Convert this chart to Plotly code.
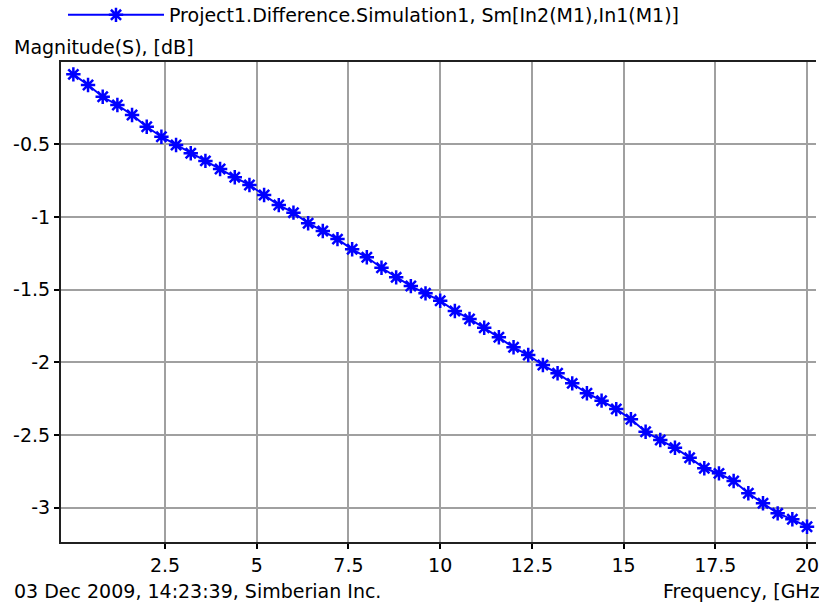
import plotly.graph_objects as go

freq_ghz = [round(i * 0.4, 1) for i in range(51)]
magnitude_db = [
    -0.019, -0.092, -0.173, -0.230, -0.298, -0.379, -0.448, -0.505, -0.562, -0.614,
    -0.670, -0.727, -0.780, -0.849, -0.918, -0.970, -1.043, -1.096, -1.152, -1.222,
    -1.277, -1.349, -1.415, -1.475, -1.525, -1.576, -1.646, -1.701, -1.762, -1.827,
    -1.896, -1.949, -2.018, -2.075, -2.144, -2.212, -2.263, -2.321, -2.391, -2.477,
    -2.534, -2.587, -2.655, -2.728, -2.763, -2.816, -2.900, -2.969, -3.038, -3.079,
    -3.130,
]
series_name = "Project1.Difference.Simulation1, Sm[In2(M1),In1(M1)]"
x_ticks = [2.5, 5, 7.5, 10, 12.5, 15, 17.5, 20]
x_tick_labels = ["2.5", "5", "7.5", "10", "12.5", "15", "17.5", "20"]
y_ticks = [-0.5, -1, -1.5, -2, -2.5, -3]
y_tick_labels = ["-0.5", "-1", "-1.5", "-2", "-2.5", "-3"]

FONT = "DejaVu Sans, Verdana, sans-serif"
FS = 19
W, H = 819, 604
L, T, B = 61, 62, 62
PW, PH = W - L, H - T - B

fig = go.Figure()
fig.add_trace(go.Scatter(
    x=freq_ghz, y=magnitude_db, mode="lines+markers", name=series_name,
    line=dict(color="#0000FF", width=2),
    marker=dict(symbol="asterisk", size=12, color="#0000FF",
                line=dict(color="#0000FF", width=2.5)),
))

fig.update_layout(
    width=W, height=H,
    margin=dict(l=L, r=0, t=T, b=B),
    paper_bgcolor="white", plot_bgcolor="white",
    font=dict(family=FONT, size=FS, color="black"),
    showlegend=True,
    legend=dict(x=(63 - L) / PW, y=1 - 15 / H, xref="paper", yref="container",
                xanchor="left", yanchor="middle",
                bgcolor="rgba(0,0,0,0)", itemwidth=96,
                font=dict(family=FONT, size=FS, color="black")),
    xaxis=dict(range=[-0.337, 20.245], tickvals=x_ticks, ticktext=x_tick_labels,
               showgrid=True, gridcolor="#A0A0A0", gridwidth=2,
               showline=True, linecolor="#202020", linewidth=2, mirror=True,
               ticks="outside", ticklen=5, tickwidth=2, tickcolor="black",
               ticklabeloverflow="allow",
               zeroline=False, tickfont=dict(family=FONT, size=FS)),
    yaxis=dict(range=[-3.235, 0.066], tickvals=y_ticks, ticktext=y_tick_labels,
               showgrid=True, gridcolor="#A0A0A0", gridwidth=2,
               showline=True, linecolor="#202020", linewidth=2,
               ticks="outside", ticklen=5, tickwidth=2, tickcolor="black",
               zeroline=False, tickfont=dict(family=FONT, size=FS)),
    annotations=[
        dict(text="Magnitude(S), [dB]", xref="paper", yref="paper",
             x=-(L - 12) / PW, y=1 + (T - 47) / PH,
             xanchor="left", yanchor="middle", showarrow=False,
             font=dict(family=FONT, size=FS)),
        dict(text="03 Dec 2009, 14:23:39, Simberian Inc.", xref="paper", yref="paper",
             x=-(L - 12) / PW, y=-(591 - (H - B)) / PH,
             xanchor="left", yanchor="middle", showarrow=False,
             font=dict(family=FONT, size=FS)),
        dict(text="Frequency, [GHz]", xref="paper", yref="paper",
             x=(663 - L) / PW, y=-(591 - (H - B)) / PH,
             xanchor="left", yanchor="middle", showarrow=False,
             font=dict(family=FONT, size=FS)),
    ],
)

fig.write_html("out.html", config={"displayModeBar": False},
               post_script="document.body.style.margin='0';document.body.style.padding='0';")
